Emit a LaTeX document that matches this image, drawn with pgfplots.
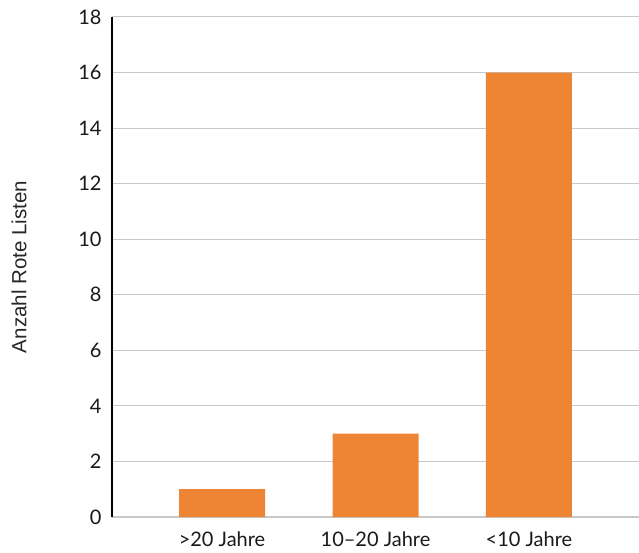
\documentclass[border=0pt]{standalone}
\usepackage{fontspec}
\setmainfont{Lato}
\newfontfamily\labelfont{Liberation Sans}
\usepackage{pgfplots}
\pgfplotsset{compat=1.18}
\definecolor{barorange}{HTML}{ED8535}
\definecolor{gridgray}{HTML}{C8C8C8}
\begin{document}
\begin{tikzpicture}
\begin{axis}[
  name=ax,
  scale only axis,
  width=527pt, height=500pt,
  xmin=-0.717, xmax=2.717,
  ymin=0, ymax=18,
  ytick={0,2,...,18},
  xtick={0,1,2},
  xticklabels={>20 Jahre,10--20 Jahre,<10 Jahre},
  ymajorgrids,
  grid style={gridgray, line width=1pt},
  axis x line*=bottom,
  axis y line*=left,
  x axis line style={gridgray, line width=1.2pt, -},
  y axis line style={black, line width=2.5pt, -},
  major tick length=0pt,
  tick style={draw=none},
  ticklabel style={font=\fontsize{20}{23}\selectfont, text=black!90},
  yticklabel style={xshift=-7pt},
  xticklabel style={yshift=-11pt},
  /pgf/number format/assume math mode=true,
  ylabel={\labelfont Anzahl Rote Listen},
  ylabel style={font=\fontsize{20.5}{23}\selectfont, text=black!85, at={(rel axis cs:0,0.5)}, anchor=center, yshift=93pt},
  clip=false,
]
\addplot[ybar, bar width=86pt, fill=barorange, draw=none] coordinates {(0,1) (1,3) (2,16)};
\end{axis}
\pgfresetboundingbox
\path ([shift={(-112pt,-35pt)}]ax.south west) rectangle ([shift={(0pt,17pt)}]ax.north east);
\end{tikzpicture}
\end{document}
